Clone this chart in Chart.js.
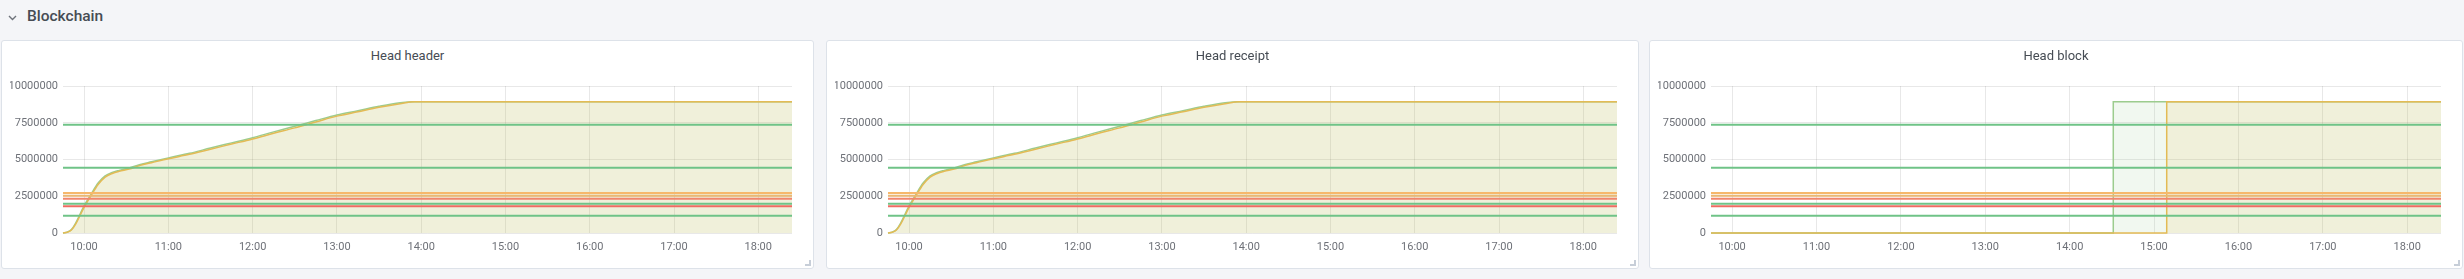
<!DOCTYPE html>
<html>
<head>
<meta charset="utf-8">
<script src="https://cdn.jsdelivr.net/npm/chart.js@4/dist/chart.umd.min.js"></script>
<style>
  html, body { margin: 0; padding: 0; }
  body {
    width: 2464px; height: 279px; overflow: hidden; position: relative;
    background: #f4f5f8; font-family: Roboto, "Noto Sans", sans-serif;
  }
  .row-title {
    position: absolute; left: 27px; top: 6px; line-height: 20px;
    font-size: 15.5px; font-weight: 500; color: #464c54;
  }
  .chevron { position: absolute; left: 8px; top: 15px; }
  .panel {
    position: absolute; top: 40px; height: 229px; box-sizing: border-box;
    background: #fff; border: 1px solid #dde2e9; border-radius: 3px;
  }
  .panel canvas { position: absolute; left: -1px; top: -1px; }
  .panel-title {
    position: absolute; left: 0; right: 0; top: 7px; line-height: 16px;
    text-align: center; font-size: 13px; font-weight: 400; color: #464c54;
  }
  .panel:after {
    content: ""; position: absolute; right: 2px; bottom: 2px; width: 4px; height: 4px;
    border-right: 2px solid #c7ced8; border-bottom: 2px solid #c7ced8;
  }
</style>
</head>
<body>
<svg class="chevron" width="9" height="6" viewBox="0 0 9 6"><polyline points="1,1 4.5,4.5 8,1" fill="none" stroke="#6e737b" stroke-width="1.4"/></svg>
<div class="row-title">Blockchain</div>

<div class="panel" style="left:1px;width:813px"><div class="panel-title">Head header</div><canvas id="chartHeader" width="813" height="229"></canvas></div>
<div class="panel" style="left:826px;width:813px"><div class="panel-title">Head receipt</div><canvas id="chartReceipt" width="813" height="229"></canvas></div>
<div class="panel" style="left:1649px;width:814px"><div class="panel-title">Head block</div><canvas id="chartBlock" width="814" height="229"></canvas></div>

<script>
// times are minutes since midnight
const xMin = 585;   // 09:45
const xMax = 1104;  // 18:24
const hourTicks = [600, 660, 720, 780, 840, 900, 960, 1020, 1080];

const headerTimes  = [585, 588, 591, 594, 600, 605, 610, 615, 620, 625, 632, 640, 648, 660, 675, 690, 705, 720, 735, 750, 765, 780, 795, 810, 825, 835, 1104];
const headerYellow = [0, 50000, 200000, 600000, 1750000, 2550000, 3300000, 3800000, 4050000, 4200000, 4350000, 4600000, 4780000, 5050000, 5350000, 5700000, 6050000, 6400000, 6780000, 7150000, 7550000, 7950000, 8250000, 8550000, 8800000, 8930000, 8930000];
const headerGreen  = [0, 60000, 240000, 680000, 1850000, 2650000, 3400000, 3880000, 4120000, 4260000, 4420000, 4660000, 4840000, 5110000, 5420000, 5780000, 6130000, 6480000, 6880000, 7260000, 7650000, 8030000, 8320000, 8620000, 8860000, 8930000, 8930000];

const receiptTimes  = headerTimes;
const receiptYellow = headerYellow;
const receiptGreen  = headerGreen;

const blockTimesYellow = [585, 909, 909, 1104];
const blockYellow      = [0, 0, 8930000, 8930000];
const blockTimesGreen  = [585, 871, 871, 1104];
const blockGreen       = [0, 0, 8930000, 8930000];

const thresholdValues = [7370000, 4440000, 2720000, 2540000, 2330000, 1990000, 1820000, 1180000];
const thresholdColors = ["#6fc387", "#6fc387", "#f6b86c", "#ebb874", "#f0866c", "#6fc387", "#ee6c62", "#6fc387"];

function toPoints(times, values) {
	return times.map(function(t, i) { return { x: t, y: values[i] }; });
}

function buildChart(id, yellowTimes, yellowValues, greenTimes, greenValues) {
	let datasets = [];

	thresholdValues.forEach(function(v, i) {
		datasets.push({
			data: [{ x: xMin, y: v }, { x: xMax, y: v }],
			borderColor: thresholdColors[i],
			borderWidth: 2,
			pointRadius: 0,
			fill: false,
			order: 0
		});
	});

	datasets.push({
		data: toPoints(yellowTimes, yellowValues),
		borderColor: "#e3bb55",
		backgroundColor: "rgba(234,184,57,0.12)",
		borderWidth: 1.5,
		pointRadius: 0,
		fill: "origin",
		clip: 3,
		order: 1
	});

	datasets.push({
		data: toPoints(greenTimes, greenValues),
		borderColor: "#9ccc8e",
		backgroundColor: "rgba(115,191,105,0.1)",
		borderWidth: 1.5,
		pointRadius: 0,
		fill: "origin",
		clip: 3,
		order: 2
	});

	new Chart(document.getElementById(id), {
		type: "line",
		data: { datasets: datasets },
		options: {
			responsive: false,
			animation: false,
			events: [],
			layout: { padding: { left: 9, right: 22, top: 46, bottom: 0 } },
			plugins: { legend: { display: false }, tooltip: { enabled: false } },
			elements: { line: { cubicInterpolationMode: "monotone" } },
			scales: {
				x: {
					type: "linear",
					min: xMin,
					max: xMax,
					afterBuildTicks: function(axis) {
						axis.ticks = hourTicks.map(function(v) { return { value: v }; });
					},
					afterFit: function(scale) { scale.height = 36; },
					grid: { color: "rgba(0,0,0,0.09)", drawTicks: false },
					border: { display: false },
					ticks: {
						autoSkip: false,
						maxRotation: 0,
						padding: 8,
						color: "#6e7178",
						font: { family: "Roboto", size: 11 },
						callback: function(v) {
							return String(Math.floor(v / 60)).padStart(2, "0") + ":00";
						}
					}
				},
				y: {
					min: 0,
					max: 10000000,
					afterFit: function(scale) { scale.width = 53; },
					grid: { color: "rgba(0,0,0,0.09)", drawTicks: false },
					border: { display: false },
					ticks: {
						stepSize: 2500000,
						padding: 5,
						color: "#6e7178",
						font: { family: "Roboto", size: 11 },
						callback: function(v) { return String(v); }
					}
				}
			}
		}
	});
}

buildChart("chartHeader", headerTimes, headerYellow, headerTimes, headerGreen);
buildChart("chartReceipt", receiptTimes, receiptYellow, receiptTimes, receiptGreen);
buildChart("chartBlock", blockTimesYellow, blockYellow, blockTimesGreen, blockGreen);
</script>
</body>
</html>
